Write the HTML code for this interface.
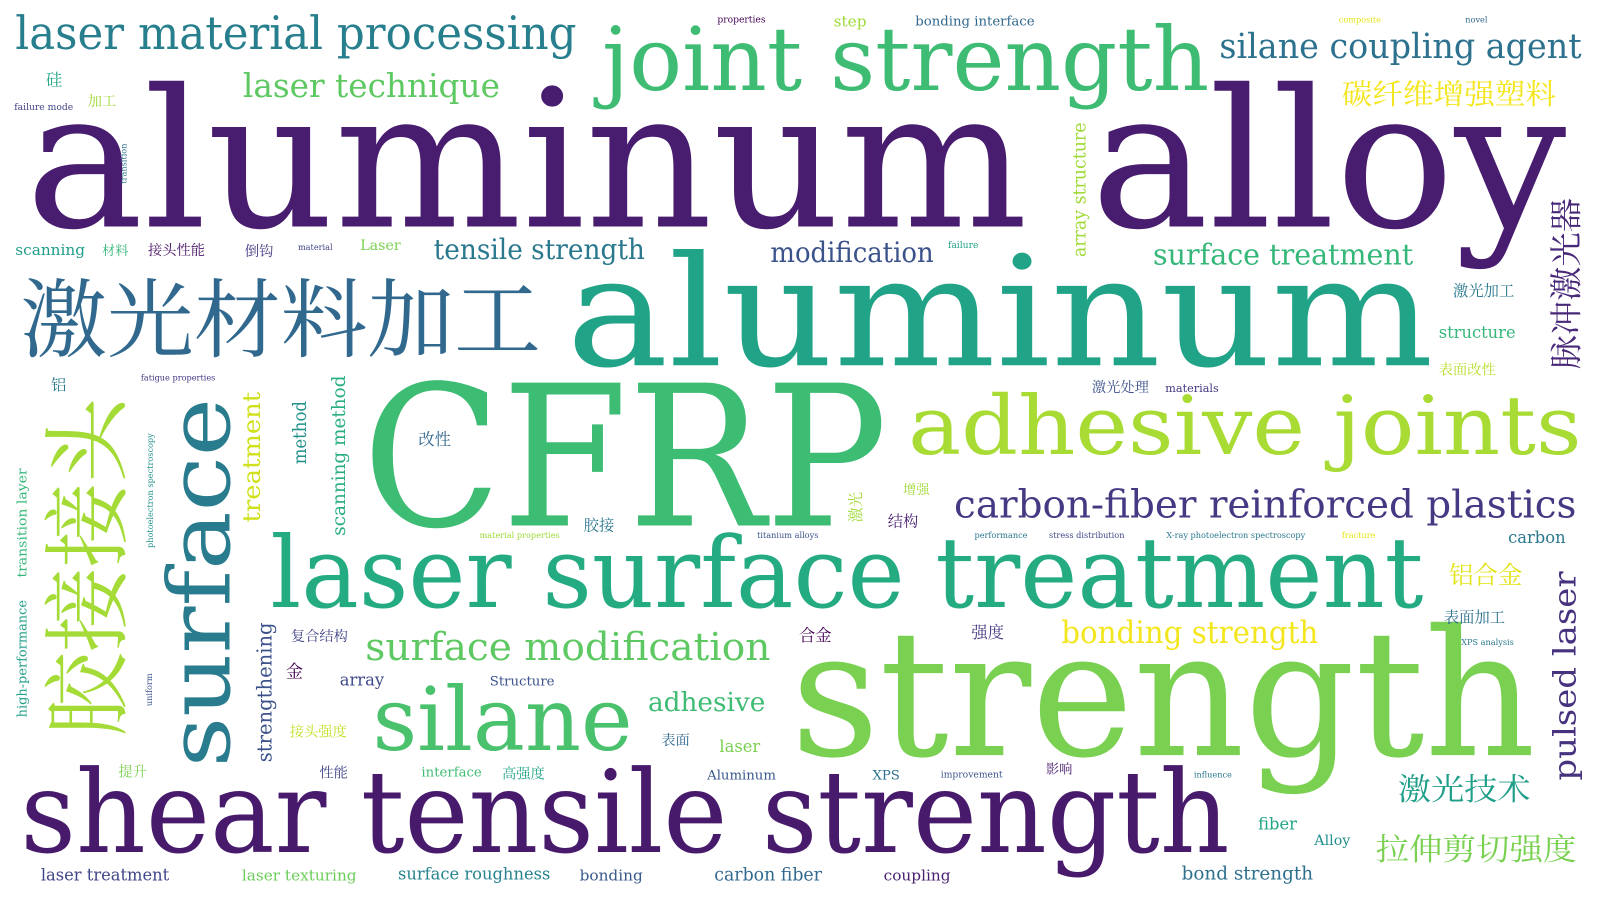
<!DOCTYPE html>
<html><head><meta charset="utf-8"><style>
html,body{margin:0;padding:0;background:#fff;}
svg{display:block;}
text{font-family:"DejaVu Serif","Liberation Serif","Noto Serif CJK SC",serif;}
.c{font-family:"Noto Serif CJK SC","Noto Sans CJK SC",serif;}
</style></head><body>
<svg width="1600" height="900" viewBox="0 0 1600 900" xmlns="http://www.w3.org/2000/svg">
<rect width="1600" height="900" fill="#fff"/>
<g transform="scale(1.0204)">
<text x="25" y="222" font-size="188" fill="#481c6e" textLength="1510" lengthAdjust="spacingAndGlyphs">aluminum alloy</text>
<text x="555" y="358" font-size="150" fill="#20a386" textLength="850" lengthAdjust="spacingAndGlyphs">aluminum</text>
<text x="355" y="515" font-size="192" fill="#3dbc74" textLength="515" lengthAdjust="spacingAndGlyphs">CFRP</text>
<text x="775" y="740" font-size="172" fill="#7ad151" textLength="730" lengthAdjust="spacingAndGlyphs">strength</text>
<text x="20" y="835" font-size="112" fill="#481a6c" textLength="1185" lengthAdjust="spacingAndGlyphs">shear tensile strength</text>
<text x="265" y="595" font-size="96" fill="#25ab82" textLength="1130" lengthAdjust="spacingAndGlyphs">laser surface treatment</text>
<text x="590" y="88" font-size="86" fill="#3fbc73" textLength="595" lengthAdjust="spacingAndGlyphs">joint strength</text>
<text x="890" y="445" font-size="80" fill="#a8db34" textLength="660" lengthAdjust="spacingAndGlyphs">adhesive joints</text>
<text x="365" y="735" font-size="86" fill="#4ac16d" textLength="255" lengthAdjust="spacingAndGlyphs">silane</text>
<text class="c" x="20" y="343" font-size="84" fill="#31688e" textLength="510" lengthAdjust="spacingAndGlyphs">激光材料加工</text>
<text x="935" y="507" font-size="38" fill="#443983" textLength="610" lengthAdjust="spacingAndGlyphs">carbon-fiber reinforced plastics</text>
<text x="15" y="48" font-size="45" fill="#277f8e" textLength="550" lengthAdjust="spacingAndGlyphs">laser material processing</text>
<text x="1195" y="57" font-size="34" fill="#2c728e" textLength="355" lengthAdjust="spacingAndGlyphs">silane coupling agent</text>
<text class="c" x="1315" y="102" font-size="28" fill="#f4e61e" textLength="210" lengthAdjust="spacingAndGlyphs">碳纤维增强塑料</text>
<text x="238" y="95" font-size="32" fill="#5ec962" textLength="252" lengthAdjust="spacingAndGlyphs">laser technique</text>
<text x="425" y="254" font-size="27" fill="#2a788e" textLength="207" lengthAdjust="spacingAndGlyphs">tensile strength</text>
<text x="755" y="257" font-size="27" fill="#3b528b" textLength="160" lengthAdjust="spacingAndGlyphs">modification</text>
<text x="1130" y="259" font-size="28" fill="#35b779" textLength="255" lengthAdjust="spacingAndGlyphs">surface treatment</text>
<text x="358" y="647" font-size="38" fill="#5ec962" textLength="397" lengthAdjust="spacingAndGlyphs">surface modification</text>
<text x="1040" y="630" font-size="30" fill="#f4e61e" textLength="252" lengthAdjust="spacingAndGlyphs">bonding strength</text>
<text x="635" y="697" font-size="26" fill="#3fbc73" textLength="115" lengthAdjust="spacingAndGlyphs">adhesive</text>
<text class="c" x="1370" y="784" font-size="30" fill="#1f9e89" textLength="130" lengthAdjust="spacingAndGlyphs">激光技术</text>
<text class="c" x="1348" y="843" font-size="30" fill="#7ad151" textLength="197" lengthAdjust="spacingAndGlyphs">拉伸剪切强度</text>
<text class="c" x="1420" y="572" font-size="24" fill="#e2e418">铝合金</text>
<text class="c" x="1415" y="610" font-size="15" fill="#2d708e">表面加工</text>
<text class="c" x="1424" y="290" font-size="15" fill="#2a788e">激光加工</text>
<text x="1410" y="331" font-size="16" fill="#35b779">structure</text>
<text class="c" x="1410" y="367" font-size="14" fill="#b5de2b">表面改性</text>
<text x="1478" y="532" font-size="16" fill="#2a788e">carbon</text>
<text transform="translate(225,752) rotate(-90)" font-size="84" fill="#297b8e" textLength="362" lengthAdjust="spacingAndGlyphs">surface</text>
<text class="c" transform="translate(116,722) rotate(-90)" font-size="86" fill="#a5db36" textLength="332" lengthAdjust="spacingAndGlyphs">胶接接头</text>
<text transform="translate(1544,765) rotate(-90)" font-size="30" fill="#46327e" textLength="205" lengthAdjust="spacingAndGlyphs">pulsed laser</text>
<text class="c" transform="translate(1546,362) rotate(-90)" font-size="32" fill="#482878" textLength="168" lengthAdjust="spacingAndGlyphs">脉冲激光器</text>
<text transform="translate(255,512) rotate(-90)" font-size="24" fill="#d0e11c" textLength="128" lengthAdjust="spacingAndGlyphs">treatment</text>
<text transform="translate(300,455) rotate(-90)" font-size="18" fill="#21918c" textLength="62" lengthAdjust="spacingAndGlyphs">method</text>
<text transform="translate(338,525) rotate(-90)" font-size="18" fill="#29af7f" textLength="157" lengthAdjust="spacingAndGlyphs">scanning method</text>
<text transform="translate(266,747) rotate(-90)" font-size="20" fill="#3b528b" textLength="137" lengthAdjust="spacingAndGlyphs">strengthening</text>
<text transform="translate(1064,252) rotate(-90)" font-size="17" fill="#a0da39" textLength="132" lengthAdjust="spacingAndGlyphs">array structure</text>
<text transform="translate(26,566) rotate(-90)" font-size="13" fill="#35b779" textLength="107" lengthAdjust="spacingAndGlyphs">transition layer</text>
<text transform="translate(26,703) rotate(-90)" font-size="13" fill="#1f9e89" textLength="115" lengthAdjust="spacingAndGlyphs">high-performance</text>
<text transform="translate(150,537) rotate(-90)" font-size="8" fill="#21918c">photoelectron spectroscopy</text>
<text transform="translate(149,692) rotate(-90)" font-size="8" fill="#3b528b">uniform</text>
<text transform="translate(124,180) rotate(-90)" font-size="8" fill="#2c728e">transition</text>
<text class="c" transform="translate(844,512) rotate(-90)" font-size="15" fill="#a0da39">激光</text>
<text x="40" y="863" font-size="16" fill="#404688">laser treatment</text>
<text x="237" y="863" font-size="15" fill="#6ccd5a">laser texturing</text>
<text x="390" y="862" font-size="16" fill="#26828e">surface roughness</text>
<text x="568" y="863" font-size="15" fill="#38588c">bonding</text>
<text x="700" y="863" font-size="17" fill="#31688e">carbon fiber</text>
<text x="866" y="863" font-size="15" fill="#481f70">coupling</text>
<text x="1158" y="862" font-size="18" fill="#2d708e">bond strength</text>
<text x="1233" y="813" font-size="16" fill="#20a486">fiber</text>
<text x="1288" y="828" font-size="14" fill="#21918c">Alloy</text>
<text class="c" x="285" y="628" font-size="14" fill="#414487">复合结构</text>
<text x="333" y="672" font-size="16" fill="#3e4989">array</text>
<text x="480" y="672" font-size="13" fill="#3b528b">Structure</text>
<text class="c" x="783" y="628" font-size="16" fill="#440154">合金</text>
<text class="c" x="952" y="625" font-size="16" fill="#443983">强度</text>
<text class="c" x="280" y="664" font-size="17" fill="#440154">金</text>
<text class="c" x="284" y="722" font-size="14" fill="#c2df23">接头强度</text>
<text class="c" x="648" y="730" font-size="14" fill="#31688e">表面</text>
<text x="705" y="737" font-size="16" fill="#7ad151">laser</text>
<text x="413" y="761" font-size="13" fill="#3fbc73">interface</text>
<text class="c" x="492" y="763" font-size="14" fill="#20a486">高强度</text>
<text x="693" y="764" font-size="13" fill="#38588c">Aluminum</text>
<text x="855" y="764" font-size="13" fill="#2c728e">XPS</text>
<text class="c" x="1025" y="758" font-size="13" fill="#481a6c">影响</text>
<text class="c" x="313" y="762" font-size="14" fill="#404688">性能</text>
<text class="c" x="116" y="761" font-size="14" fill="#7ad151">提升</text>
<text x="922" y="762" font-size="9" fill="#3b528b">improvement</text>
<text x="1170" y="762" font-size="8" fill="#2a788e">influence</text>
<text class="c" x="410" y="436" font-size="16" fill="#31688e">改性</text>
<text class="c" x="1070" y="384" font-size="14" fill="#3b528b">激光处理</text>
<text x="1142" y="384" font-size="11" fill="#443983">materials</text>
<text class="c" x="572" y="520" font-size="15" fill="#2a788e">胶接</text>
<text class="c" x="870" y="516" font-size="15" fill="#481f70">结构</text>
<text class="c" x="885" y="484" font-size="13" fill="#a0da39">增强</text>
<text x="15" y="250" font-size="15" fill="#1f9e89">scanning</text>
<text class="c" x="100" y="250" font-size="13" fill="#35b779">材料</text>
<text class="c" x="145" y="250" font-size="14" fill="#471365">接头性能</text>
<text class="c" x="240" y="251" font-size="14" fill="#443983">倒钩</text>
<text x="353" y="245" font-size="14" fill="#7ad151">Laser</text>
<text class="c" x="50" y="382" font-size="15" fill="#2a788e">铝</text>
<text class="c" x="45" y="84" font-size="16" fill="#20a486">硅</text>
<text class="c" x="86" y="104" font-size="14" fill="#a0da39">加工</text>
<text x="817" y="26" font-size="15" fill="#a0da39">step</text>
<text x="897" y="25" font-size="13" fill="#31688e">bonding interface</text>
<text x="703" y="22" font-size="9" fill="#440154">properties</text>
<text x="14" y="108" font-size="9" fill="#414487">failure mode</text>
<text x="138" y="373" font-size="8" fill="#443983">fatigue properties</text>
<text x="1143" y="527" font-size="8" fill="#2a788e">X-ray photoelectron spectroscopy</text>
<text x="1028" y="527" font-size="8" fill="#404688">stress distribution</text>
<text x="955" y="527" font-size="8" fill="#2a788e">performance</text>
<text x="470" y="527" font-size="8" fill="#a0da39">material properties</text>
<text x="742" y="527" font-size="8" fill="#3b528b">titanium alloys</text>
<text x="1315" y="527" font-size="8" fill="#e5e419">fracture</text>
<text x="1432" y="632" font-size="8" fill="#2a788e">XPS analysis</text>
<text x="1312" y="22" font-size="8" fill="#e5e419">composite</text>
<text x="1436" y="22" font-size="8" fill="#31688e">novel</text>
<text x="929" y="243" font-size="9" fill="#20a486">failure</text>
<text x="292" y="245" font-size="8" fill="#414487">material</text>
</g>
</svg>
</body></html>
